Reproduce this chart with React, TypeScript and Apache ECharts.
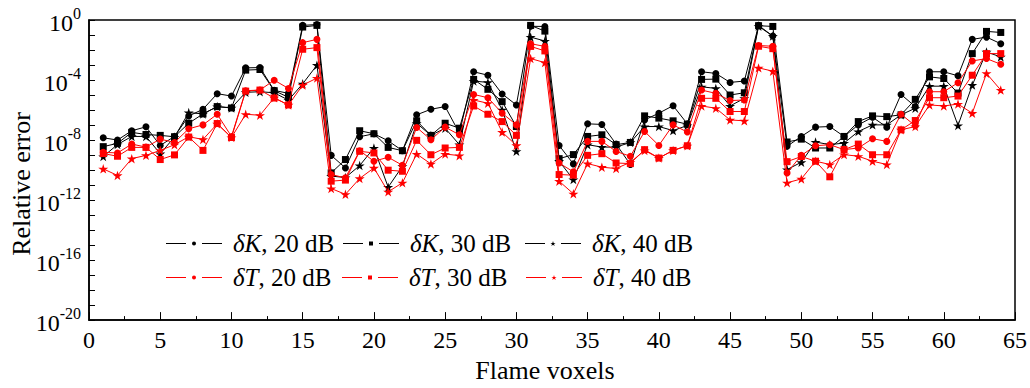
import React, { useEffect, useRef } from "react";
import * as echarts from "echarts";

const FONT = "'Liberation Serif', 'Times New Roman', serif";

// Flame voxel indices (x axis)
const voxels = [
  1, 2, 3, 4, 5, 6, 7, 8, 9, 10, 11, 12, 13, 14, 15, 16,
  17, 18, 19, 20, 21, 22, 23, 24, 25, 26, 27, 28, 29, 30, 31, 32,
  33, 34, 35, 36, 37, 38, 39, 40, 41, 42, 43, 44, 45, 46, 47, 48,
  49, 50, 51, 52, 53, 54, 55, 56, 57, 58, 59, 60, 61, 62, 63, 64,
];

// Relative errors, stored as log10 exponents
const dK20log = [
  -7.85, -8.0, -7.38, -7.12, -8.36, -7.76, -6.4, -5.95, -4.91, -5.07, -3.19, -3.17, -4.69, -4.89, -0.36, -0.3,
  -9.02, -9.86, -7.78, -7.58, -8.05, -8.71, -6.32, -5.95, -5.77, -7.54, -3.45, -3.68, -4.93, -5.66, -0.42, -0.43,
  -8.36, -9.59, -6.92, -6.96, -8.27, -9.63, -6.66, -6.21, -5.71, -6.92, -3.45, -3.56, -4.16, -4.07, -0.36, -1.07,
  -8.42, -7.76, -7.14, -7.1, -7.76, -6.99, -6.48, -7.14, -4.96, -5.77, -3.45, -3.45, -3.72, -1.29, -1.14, -1.58,
];
const dK30log = [
  -8.44, -8.22, -7.49, -7.63, -7.69, -7.78, -6.88, -6.26, -5.77, -5.86, -3.34, -3.3, -4.71, -5.15, -0.47, -0.36,
  -10.19, -9.3, -7.38, -7.58, -8.49, -8.71, -6.72, -7.69, -6.88, -7.21, -3.96, -4.62, -5.44, -7.1, -0.36, -0.74,
  -9.24, -8.97, -7.76, -7.65, -8.31, -8.16, -6.39, -6.54, -6.72, -6.95, -3.96, -3.94, -5.0, -4.85, -0.38, -0.43,
  -8.13, -7.94, -8.53, -8.53, -7.76, -6.77, -6.39, -6.44, -6.32, -5.29, -3.79, -3.9, -4.87, -2.24, -0.76, -0.83,
];
const dK40log = [
  -9.1, -8.3, -7.76, -7.76, -8.91, -7.8, -6.17, -6.26, -5.77, -5.86, -4.82, -4.78, -4.85, -5.34, -4.25, -3.01,
  -10.4, -10.5, -9.7, -8.53, -11.14, -9.75, -6.88, -7.69, -7.21, -8.31, -4.07, -4.16, -5.99, -8.75, -1.14, -1.4,
  -9.41, -10.63, -8.31, -8.47, -8.47, -8.16, -7.1, -7.1, -7.37, -7.03, -4.45, -4.56, -5.73, -5.22, -0.42, -1.07,
  -9.97, -9.48, -8.13, -8.31, -8.2, -7.43, -6.99, -6.99, -6.32, -5.88, -4.41, -4.41, -7.03, -4.34, -2.13, -2.46,
];
const dT20log = [
  -8.82, -8.86, -8.27, -8.47, -7.94, -8.16, -7.25, -6.99, -6.28, -7.76, -4.71, -4.67, -4.01, -4.56, -1.51, -1.29,
  -10.3, -10.52, -8.71, -9.41, -9.15, -9.68, -7.16, -7.98, -7.14, -7.65, -4.96, -5.18, -6.21, -6.99, -1.58, -1.76,
  -9.53, -10.12, -8.09, -8.09, -8.76, -9.08, -7.43, -8.36, -6.99, -7.47, -4.67, -4.89, -5.37, -5.33, -1.7, -1.75,
  -10.19, -9.02, -8.38, -8.31, -8.64, -8.53, -7.91, -8.09, -6.28, -7.05, -4.78, -4.78, -4.18, -2.73, -2.57, -2.95,
];
const dT30log = [
  -8.9, -9.08, -8.49, -8.49, -9.3, -8.99, -7.8, -8.69, -6.9, -7.83, -4.74, -4.67, -5.2, -5.66, -1.95, -1.84,
  -10.74, -10.67, -8.75, -8.86, -10.01, -10.08, -8.02, -8.98, -8.53, -8.49, -5.73, -6.28, -6.77, -7.69, -1.76, -2.06,
  -10.3, -10.34, -9.02, -8.91, -9.53, -9.57, -8.64, -9.2, -8.69, -8.38, -5.22, -5.22, -6.1, -6.1, -1.75, -1.91,
  -9.44, -9.1, -9.41, -10.45, -8.64, -8.27, -8.98, -8.98, -7.32, -6.7, -5.18, -5.18, -5.07, -3.68, -2.24, -2.24,
];
const dT40log = [
  -9.92, -10.36, -9.24, -9.02, -8.69, -8.31, -7.78, -7.96, -6.92, -7.83, -6.28, -6.35, -5.18, -5.66, -4.34, -3.87,
  -11.23, -11.62, -10.56, -9.86, -11.45, -10.85, -8.93, -9.59, -8.93, -9.04, -5.33, -5.55, -7.47, -8.36, -2.57, -2.84,
  -10.74, -11.58, -9.57, -9.81, -9.9, -9.48, -8.7, -9.2, -8.69, -8.38, -5.73, -5.88, -6.66, -6.72, -3.19, -3.41,
  -10.85, -10.59, -9.41, -9.63, -8.97, -9.08, -9.41, -9.63, -7.32, -7.1, -5.66, -5.73, -5.6, -6.21, -3.56, -4.67,
];

const seriesNames = ["δK, 20 dB", "δK, 30 dB", "δK, 40 dB", "δT, 20 dB", "δT, 30 dB", "δT, 40 dB"];
const xTickStep = 5;
const yLabelEvery = 4;

const STAR =
  "path://M50,0 L61,35 L98,35 L68,57 L79,91 L50,70 L21,91 L32,57 L2,35 L39,35 Z";

const ICON_CIRCLE =
  "path://M0,1.5h20v1H0z M36,1.5h20v1H36z M26,2a2,2 0 1,0 4,0a2,2 0 1,0 -4,0z";
const ICON_SQUARE = "path://M0,1.5h20v1H0z M36,1.5h20v1H36z M26,0h4v4h-4z";
const ICON_STAR =
  "path://M0,2h20v1H0z M36,2h20v1H36z M28,0 L28.6,1.9 L30.6,1.9 L29,3.1 L29.6,5 L28,3.85 L26.4,5 L27,3.1 L25.4,1.9 L27.4,1.9 Z";

export default function App() {
  const ref = useRef<HTMLDivElement>(null);

  useEffect(() => {
    if (!ref.current) return;
    const chart = echarts.init(ref.current, undefined, { renderer: "svg" });

    const logs = [dK20log, dK30log, dK40log, dT20log, dT30log, dT40log];
    const colors = ["#000000", "#000000", "#000000", "#ff0000", "#ff0000", "#ff0000"];
    const symbols = ["circle", "rect", STAR, "circle", "rect", STAR];
    const sizes = [7, 7, 10, 7, 7, 10];
    const icons = [ICON_CIRCLE, ICON_SQUARE, ICON_STAR, ICON_CIRCLE, ICON_SQUARE, ICON_STAR];
    const iconH = [4, 4, 5, 4, 4, 5];
    const legendPos = [
      [166, 231],
      [343, 231],
      [525, 231],
      [166, 265],
      [342, 265],
      [526, 265],
    ];

    const series = seriesNames.map((name, k) => ({
      name,
      type: "line",
      data: voxels.map((v, i) => [v, Math.pow(10, logs[k][i])]),
      symbol: symbols[k],
      symbolSize: sizes[k],
      symbolKeepAspect: true,
      lineStyle: { color: colors[k], width: 1 },
      itemStyle: { color: colors[k] },
      z: k < 3 ? 2 : 3,
    }));

    const legends = seriesNames.map((name, k) => ({
      data: [{ name, icon: icons[k] }],
      left: legendPos[k][0],
      top: legendPos[k][1],
      padding: 0,
      itemWidth: 56,
      itemHeight: iconH[k],
      itemGap: 0,
      selectedMode: false,
      itemStyle: { borderWidth: 0 },
      formatter: (n: string) => `{i|${n.slice(0, 2)}}{n|${n.slice(2)}}`,
      textStyle: {
        color: "#000",
        fontFamily: FONT,
        fontSize: 25,
        rich: {
          i: { fontStyle: "italic", fontFamily: FONT, fontSize: 25, color: "#000", padding: [0, 0, 0, 6], lineHeight: 26 },
          n: { fontFamily: FONT, fontSize: 25, color: "#000", lineHeight: 26 },
        },
      },
    }));

    chart.setOption({
      animation: false,
      backgroundColor: "#ffffff",
      grid: {
        left: 89,
        right: 15,
        top: 20,
        bottom: 66,
        show: true,
        borderColor: "#000",
        borderWidth: 1.5,
        backgroundColor: "transparent",
      },
      legend: legends,
      xAxis: {
        type: "value",
        min: 0,
        max: 65,
        interval: xTickStep,
        name: "Flame voxels",
        nameLocation: "middle",
        nameGap: 36,
        nameTextStyle: { fontFamily: FONT, fontSize: 26, color: "#000", padding: [0, 14, 0, 0] },
        axisLine: { show: true, lineStyle: { color: "#000", width: 1.5 } },
        axisTick: { show: true, inside: true, length: 8, lineStyle: { color: "#000", width: 1 } },
        minorTick: { show: true, splitNumber: 2, length: 4, lineStyle: { color: "#000", width: 1 } },
        splitLine: { show: false },
        axisLabel: { fontFamily: FONT, fontSize: 24, color: "#000", margin: 8 },
      },
      yAxis: {
        type: "log",
        logBase: 10,
        min: 1e-20,
        max: 1,
        interval: 1,
        axisLine: { show: true, lineStyle: { color: "#000", width: 1.5 } },
        axisTick: { show: true, inside: true, length: 6, lineStyle: { color: "#000", width: 1 } },
        splitLine: { show: false },
        axisLabel: {
          margin: 8,
          formatter: (v: number) => {
            const e = Math.round(Math.log10(v));
            if (e % yLabelEvery !== 0) return "";
            return `{b|10}{s|${e === 0 ? 0 : e}}`;
          },
          rich: {
            b: { fontFamily: FONT, fontSize: 24, color: "#000", lineHeight: 30, verticalAlign: "bottom" },
            s: { fontFamily: FONT, fontSize: 16, color: "#000", lineHeight: 16, verticalAlign: "top" },
          },
        },
      },
      graphic: [
        {
          type: "text",
          x: 21,
          y: 184,
          rotation: Math.PI / 2,
          style: {
            text: "Relative error",
            fontFamily: FONT,
            fontSize: 26,
            fill: "#000",
            textAlign: "center",
            textVerticalAlign: "middle",
            align: "center",
            verticalAlign: "middle",
          },
        },
      ],
      series,
    });

    return () => chart.dispose();
  }, []);

  return (
    <div
      ref={ref}
      style={{ position: "fixed", left: 0, top: 0, width: 1030, height: 388, background: "#fff" }}
    />
  );
}
